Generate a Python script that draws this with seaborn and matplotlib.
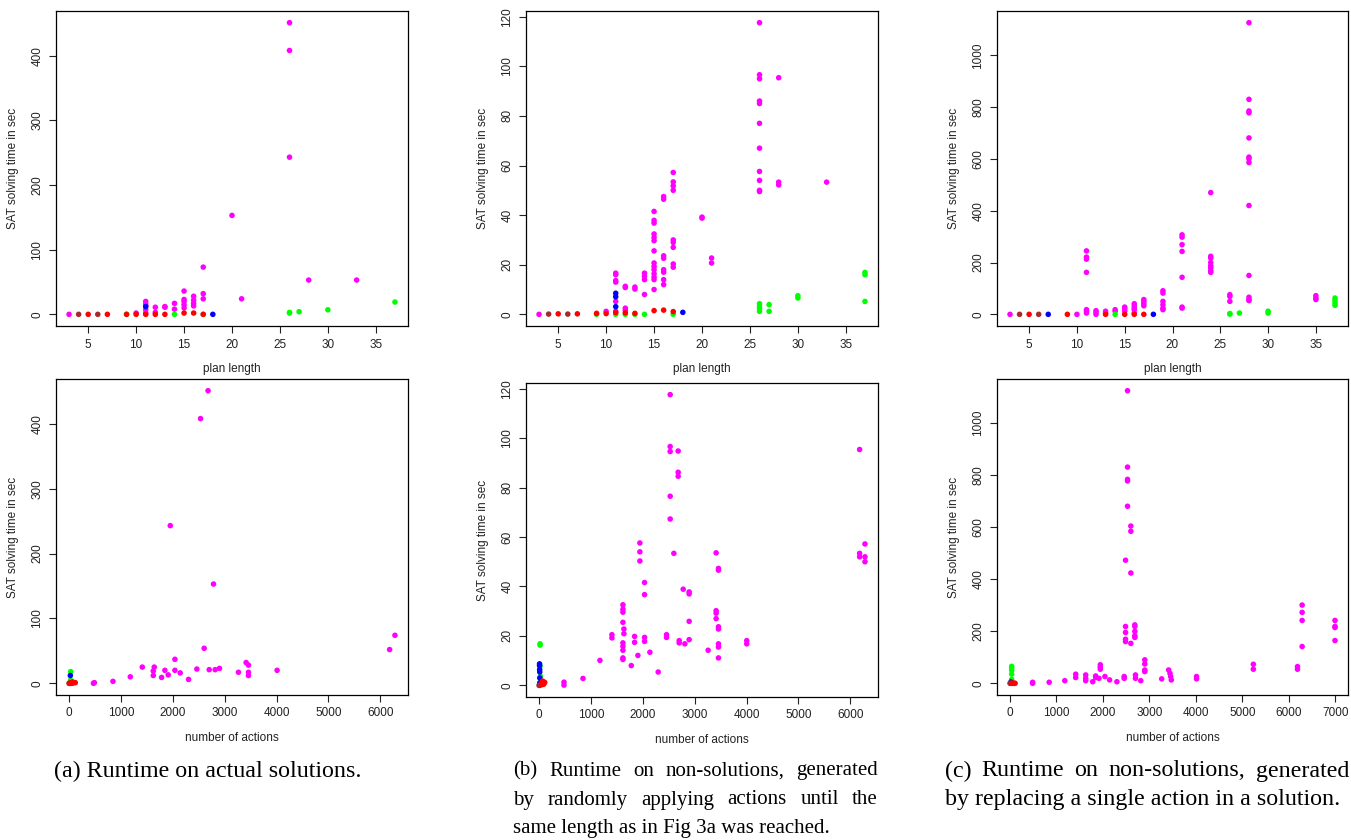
import numpy as np
import pandas as pd
import seaborn as sns
import matplotlib
matplotlib.use("Agg")
import matplotlib.pyplot as plt
from matplotlib.ticker import MultipleLocator

sns.set_style("white")
plt.rcParams['font.family'] = ['Liberation Sans', 'DejaVu Sans']

# --- colours used for the problem groups -------------------------------------
palette = {'magenta': '#FF00FF', 'green': '#00FF00', 'blue': '#0000FF',
           'brown': '#A52A2A', 'red': '#FF0000'}
draw_rank = {'magenta': 0, 'green': 1, 'blue': 2, 'brown': 3, 'red': 4}

# --- (a) actual solutions: plan length vs time -------------------------------
a_len_x = [3, 10, 11, 11, 11, 11, 11, 12, 12, 13, 13, 14, 14, 15, 15, 15, 15, 15,
           16, 16, 16, 16, 17, 17, 17, 20, 21, 26, 26, 26, 28, 33,
           9, 14, 17, 26, 26, 27, 30, 37,
           11, 18,
           5, 7, 9, 10, 11, 12, 13, 15, 16, 17,
           4, 6]
a_len_y = [0, 2, 2, 7, 13, 16, 20, 3, 11, 11, 12, 8, 17, 10, 15, 20, 23, 36,
           13, 17, 22, 28, 24, 32, 73, 153, 24, 243, 408, 451, 53, 53,
           0, 0, 0, 2, 3, 4, 7, 19,
           12, 0,
           0, 0, 0, 0, 0, 0, 0, 2, 2, 0,
           0, 0]
a_len_grp = ['magenta'] * 32 + ['green'] * 8 + ['blue'] * 2 + ['red'] * 10 + ['brown'] * 2

# --- (a) actual solutions: number of actions vs time -------------------------
a_act_x = [2680, 2535, 1951, 2785, 6283, 6180, 2605, 2041, 3414, 3459, 3459, 3459,
           4011, 3266, 2900, 2817, 2702, 2464, 2304, 2143, 2041, 1912, 1848, 1784,
           1643, 1624, 1624, 1412, 1181, 847, 488, 470,
           32, 30, 25,
           10, 40, 60, 90, 120, 70,
           0, 15, 30]
a_act_y = [451, 408, 243, 153, 74, 52, 54, 37, 32, 28, 17, 12,
           20, 17, 23, 21, 21, 22, 6, 16, 20, 13, 20, 9,
           25, 19, 12, 25, 10, 3, 1, 0,
           18, 5, 12,
           0, 1, 0, 1, 1, 2,
           0, 0, 0]
a_act_grp = ['magenta'] * 32 + ['green'] * 2 + ['blue'] + ['red'] * 6 + ['brown'] * 3

# --- (b) random non-solutions: plan length vs time ---------------------------
b_len_x = [3, 10, 11, 11, 11, 11, 11, 11, 12, 12, 12, 12, 13, 13, 14, 14, 14, 14,
           15, 15, 15, 15, 15, 15, 15, 15, 15, 15, 15, 15, 15, 15,
           16, 16, 16, 16, 16, 16, 16, 16,
           17, 17, 17, 17, 17, 17, 17, 17, 17,
           20, 20, 21, 21,
           26, 26, 26, 26, 26, 26, 26, 26, 26, 26, 26,
           28, 28, 28, 33,
           11, 11, 11, 18,
           9, 11, 12, 13, 14, 17, 26, 26, 26, 26, 27, 27, 30, 30, 37, 37, 37,
           5, 7, 9, 10, 11, 12, 13, 15, 16, 17,
           4, 6]
b_len_y = [0, 1.2, 16.6, 16, 13.6, 13, 5.2, 1.2, 11.3, 10.8, 2.5, 1.6, 11, 10.2,
           16.6, 15.3, 14, 8,
           41.5, 37.9, 36.8, 32.4, 31, 29.7, 25.6, 20.7, 19.3, 18, 16.4, 15, 14, 10,
           47.5, 46.4, 23.6, 22.6, 18, 17, 14, 12,
           57.2, 53.4, 51.8, 50, 30, 29, 27, 20.3, 19,
           38.8, 39.2, 22.7, 20.7,
           117.6, 96.6, 95, 86, 85, 77, 67, 57.6, 54, 50, 49.5,
           95.4, 53.3, 52.2, 53.3,
           8.5, 7.1, 3.1, 0.8,
           0, 0, 0, 0, 0, 0, 4.3, 3.5, 2.5, 1.2, 3.9, 1.2, 7.5, 6.6, 16.9, 16, 5.2,
           0.2, 0.2, 0.4, 0.3, 0.7, 0.6, 0.4, 1.5, 1.7, 1.1,
           0.1, 0.1]
b_len_grp = ['magenta'] * 68 + ['blue'] * 4 + ['green'] * 17 + ['red'] * 10 + ['brown'] * 2

# --- (b) random non-solutions: number of actions vs time ---------------------
b_act_x = [2528, 2528, 2528, 2682, 2682, 2682, 2528, 2528, 2599,
           6180, 6180, 6180, 6283, 6283, 6283,
           1944, 1944, 1944, 2034, 2034, 2779, 2894, 2894, 2894, 2894,
           3414, 3459, 3459, 3414, 3414, 3414, 3459, 3459, 3459, 3459, 3459,
           4004, 4004, 3260, 2811, 2702, 2702, 2458, 2458, 2297, 2137,
           2034, 2034, 1906, 1778, 1842, 1842,
           1617, 1617, 1617, 1617, 1617, 1617, 1617, 1617, 1617, 1636, 1636,
           1405, 1405, 1174, 847, 481, 481,
           20, 20, 20, 25, 20,
           10, 10, 12, 14, 15, 15,
           50, 70, 90, 110, 60,
           0, 15]
b_act_y = [117.6, 96.6, 94.6, 94.8, 86.2, 84.6, 76.5, 67.3, 53.4,
           95.4, 53.4, 52, 57.2, 52, 50,
           57.6, 54, 50.3, 41.6, 36.7, 38.9, 37.8, 37, 25.9, 18.5,
           53.6, 47.3, 46.6, 30.2, 29.2, 27, 23.7, 22.8, 16.8, 15.5, 11.1,
           18.1, 16.8, 14.2, 16.8, 18.1, 17.2, 20.5, 19.4, 5.4, 13.4,
           19.4, 17.8, 12.1, 8, 19.8, 17.4,
           32.6, 30.8, 29.6, 25.5, 17.2, 15.8, 14.2, 11.1, 10.5, 22.8, 20.9,
           20.5, 19.2, 10.1, 2.8, 1.3, 0.1,
           16.8, 16.3, 7.8, 3.7, 1.2,
           8.7, 8, 6.4, 5.4, 3, 1,
           1, 1.7, 0.5, 1.2, 0.3,
           0, 0]
b_act_grp = ['magenta'] * 69 + ['green'] * 5 + ['blue'] * 6 + ['red'] * 5 + ['brown'] * 2

# --- (c) single-action replacement: plan length vs time ----------------------
c_len_x = [3, 10, 11, 11, 11, 11, 11, 11, 11, 12, 12, 12, 13, 13, 14, 14, 15, 15, 15,
           16, 16, 16, 16, 16, 17, 17, 17, 17,
           19, 19, 19, 19, 19, 19, 21, 21, 21, 21, 21, 21, 21,
           24, 24, 24, 24, 24, 24, 24, 24, 26, 26, 26,
           28, 28, 28, 28, 28, 28, 28, 28, 28, 28, 28, 28, 28, 35, 35, 35,
           14, 26, 26, 27, 30, 30, 37, 37, 37, 37,
           5, 9, 13, 15, 16, 17,
           4, 6,
           7, 18]
c_len_y = [0, 0, 245, 221, 213, 162, 18, 12, 5, 14, 8, 0, 12, 5, 18, 12, 28, 21, 12,
           41, 33, 24, 18, 5, 57, 50, 41, 33,
           91, 82, 50, 37, 24, 18, 307, 298, 269, 243, 143, 28, 24,
           470, 224, 217, 200, 188, 179, 168, 162, 76, 69, 50,
           1126, 830, 785, 778, 681, 607, 600, 586, 420, 150, 66, 57, 53, 72, 63, 57,
           0, 3, 1, 5, 12, 5, 63, 54, 44, 35,
           0, 0, 0, 0, 0, 0,
           0, 0,
           0, 0]
c_len_grp = ['magenta'] * 68 + ['green'] * 10 + ['red'] * 6 + ['brown'] * 2 + ['blue'] * 2

# --- (c) single-action replacement: number of actions vs time ----------------
c_act_x = [2529, 2529, 2529, 2529, 2529, 2600, 2600, 2486, 2600, 2486, 2486, 2486, 2486,
           2686, 2686, 2686, 2686, 2686, 2600,
           6286, 6286, 6286, 6286, 6186, 6186, 6993, 6993, 6993, 6993, 5236, 5236,
           2900, 2900, 2900, 2900, 2700, 2700, 2814, 2457, 2457, 2300, 2143, 2043,
           1943, 1943, 1943, 1914, 1843, 1843, 1779, 1629, 1629, 1629, 1414, 1414,
           1179, 843, 486, 486, 3264, 3414, 3443, 3457, 3471, 4014, 4014,
           36, 36, 36, 36, 36, 40,
           20, 25,
           60, 90, 110, 40,
           0, 20]
c_act_y = [1122, 829, 782, 776, 679, 603, 583, 472, 423, 218, 195, 169, 160,
           224, 218, 199, 182, 176, 153,
           300, 272, 241, 141, 64, 54, 241, 218, 214, 164, 73, 54,
           90, 74, 51, 45, 32, 19, 10, 26, 19, 6, 13, 26,
           71, 62, 54, 19, 28, 22, 6, 32, 19, 10, 35, 22,
           10, 4, 4, 0, 17, 51, 38, 26, 13, 26, 17,
           65, 58, 50, 35, 15, 5,
           5, 2,
           0, 0, 0, 0,
           0, 0]
c_act_grp = ['magenta'] * 66 + ['green'] * 6 + ['blue'] * 2 + ['red'] * 4 + ['brown'] * 2

W, H = 1351, 840
fig = plt.figure(figsize=(W / 100, H / 100), dpi=100)


def px_axes(l, t, r, b):
    return fig.add_axes([l / W, 1 - b / H, (r - l) / W, (b - t) / H])


def panel(ax, xs, ys, grp, xlabel, xstep, ystep):
    df = pd.DataFrame({'x': xs, 'y': ys, 'grp': grp})
    df['rank'] = df['grp'].map(draw_rank)
    df = df.sort_values('rank', kind='stable')
    sns.scatterplot(data=df, x='x', y='y', hue='grp', palette=palette,
                    s=16, linewidth=0, legend=False, ax=ax)
    ax.margins(0.04)
    ax.xaxis.set_major_locator(MultipleLocator(xstep))
    ax.yaxis.set_major_locator(MultipleLocator(ystep))
    ax.tick_params(direction='out', length=5, width=0.8, colors='#222222',
                   labelsize=8.5, bottom=True, left=True, pad=4)
    for lab in ax.get_yticklabels():
        lab.set_rotation(90)
        lab.set_va('center')
    for sp in ax.spines.values():
        sp.set_visible(True)
        sp.set_color('black')
        sp.set_linewidth(0.9)
    bbox = ax.get_position()
    w_px, h_px = bbox.width * W, bbox.height * H
    ax.set_xlabel(xlabel, fontsize=8.5, color='#222222')
    ax.set_ylabel('SAT solving time in sec', fontsize=8.5, color='#222222')
    ax.xaxis.set_label_coords(0.5, -37 / h_px)
    ax.yaxis.set_label_coords(-37 / w_px, 0.5)


panel(px_axes(56, 11, 408, 326), a_len_x, a_len_y, a_len_grp, 'plan length', 5, 100)
panel(px_axes(526, 11, 878, 326), b_len_x, b_len_y, b_len_grp, 'plan length', 5, 20)
panel(px_axes(997, 11, 1348, 326), c_len_x, c_len_y, c_len_grp, 'plan length', 5, 200)
panel(px_axes(56, 379, 408, 695), a_act_x, a_act_y, a_act_grp, 'number of actions', 1000, 100)
panel(px_axes(526, 383, 878, 697), b_act_x, b_act_y, b_act_grp, 'number of actions', 1000, 20)
panel(px_axes(997, 379, 1348, 695), c_act_x, c_act_y, c_act_grp, 'number of actions', 1000, 200)

# --- captions (justified like the paper) -------------------------------------
renderer = fig.canvas.get_renderer()


def caption_line(text, x0, x1, y, justify, size=17.3):
    font = dict(family='Liberation Serif', fontsize=size, color='black', va='center')
    if not justify:
        fig.text(x0 / W, 1 - y / H, text, ha='left', **font)
        return
    words = text.split(' ')
    widths = []
    for w in words:
        t = fig.text(0, 0, w, **font)
        widths.append(t.get_window_extent(renderer).width)
        t.remove()
    gap = (x1 - x0 - sum(widths)) / (len(words) - 1)
    x = x0
    for w, wd in zip(words, widths):
        fig.text(x / W, 1 - y / H, w, ha='left', **font)
        x += wd + gap


caption_line('(a) Runtime on actual solutions.', 54, 360, 771, False)
caption_line('(b) Runtime on non-solutions, generated', 513, 878, 771, True, 15)
caption_line('by randomly applying actions until the', 513, 878, 800, True, 15)
caption_line('same length as in Fig 3a was reached.', 513, 878, 829, False, 15)
caption_line('(c) Runtime on non-solutions, generated', 945, 1349, 771, True)
caption_line('by replacing a single action in a solution.', 945, 1349, 800, False)

fig.savefig('out.png', dpi=100)
